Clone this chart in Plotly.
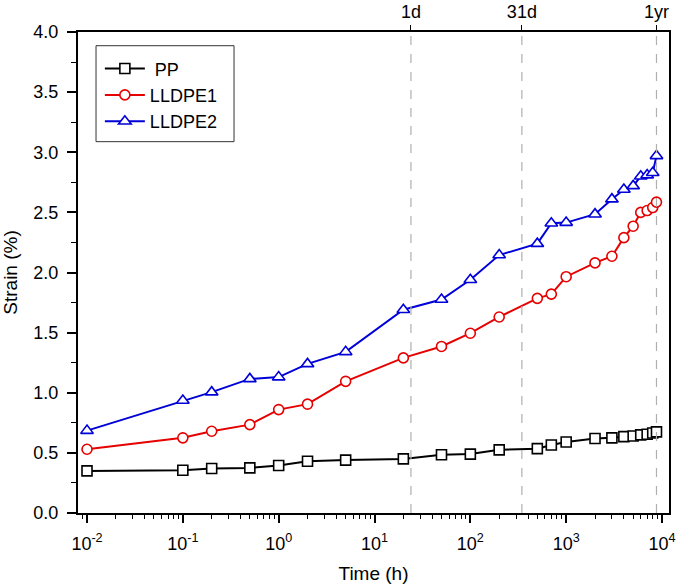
import plotly.graph_objects as go

# ---- data ----
time_h = [0.01, 0.1, 0.2, 0.5, 1, 2, 5, 20, 50, 100, 200, 500, 700, 1000,
          2000, 3000, 4000, 5000, 6000, 7000, 8000, 8760]
pp = [0.35, 0.355, 0.37, 0.375, 0.395, 0.43, 0.44, 0.45, 0.485, 0.49, 0.525,
      0.535, 0.565, 0.59, 0.62, 0.625, 0.635, 0.64, 0.65, 0.655, 0.665, 0.675]
lldpe1 = [0.53, 0.625, 0.68, 0.735, 0.86, 0.905, 1.095, 1.29, 1.385, 1.495,
          1.63, 1.785, 1.82, 1.965, 2.08, 2.135, 2.29, 2.385, 2.50, 2.515,
          2.54, 2.585]
lldpe2 = [0.685, 0.935, 1.005, 1.115, 1.13, 1.24, 1.34, 1.69, 1.775, 1.94,
          2.145, 2.24, 2.41, 2.415, 2.485, 2.61, 2.69, 2.72, 2.80, 2.81,
          2.83, 2.97]
series_names = ["PP", "LLDPE1", "LLDPE2"]

marker_times = [24, 345, 8760]
marker_labels = ["1d", "31d", "1yr"]

x_tickvals = [0.01, 0.1, 1, 10, 100, 1000, 10000]
x_ticktext = ["10<sup>-2</sup>", "10<sup>-1</sup>", "10<sup>0</sup>", "10<sup>1</sup>",
              "10<sup>2</sup>", "10<sup>3</sup>", "10<sup>4</sup>"]
x_minor = [k * v for v in [0.001, 0.01, 0.1, 1, 10, 100, 1000] for k in range(2, 10)]

FONT = "Liberation Sans, Arial, sans-serif"

fig = go.Figure()

# vertical dashed reference lines
for t in marker_times:
    fig.add_trace(go.Scatter(
        x=[t, t], y=[0, 4], mode="lines", xaxis="x2",
        line=dict(color="#b0b0b0", width=1.2, dash="dash"),
        showlegend=False, hoverinfo="skip"))

styles = [
    ("#000000", "square"),
    ("#e60000", "circle"),
    ("#0000d8", "triangle-up"),
]
for name, ys, (col, sym) in zip(series_names, [pp, lldpe1, lldpe2], styles):
    fig.add_trace(go.Scatter(
        x=time_h, y=ys, name=name if name != "PP" else " PP", mode="lines+markers",
        line=dict(color=col, width=2),
        marker=dict(symbol=sym, size=10 if sym != "triangle-up" else 11,
                    color="white", line=dict(color=col, width=1.6))))

# legend frame
fig.add_shape(type="rect", xref="paper", yref="paper",
              x0=0.0305, x1=0.264, y0=0.772, y1=0.9715,
              line=dict(color="#333333", width=1), fillcolor="white", layer="below")

fig.update_layout(
    width=685, height=585,
    margin=dict(l=78, r=16, t=32, b=72),
    plot_bgcolor="white", paper_bgcolor="white",
    font=dict(family=FONT, size=18, color="#000000"),
    showlegend=True,
    legend=dict(x=0.037, y=0.962, xanchor="left", yanchor="top",
                bgcolor="rgba(0,0,0,0)", borderwidth=0,
                font=dict(size=18), itemwidth=40, tracegroupgap=0),
    xaxis=dict(type="log", range=[-2.094, 4.073], showgrid=False, zeroline=False,
               automargin=False,
               showline=True, linecolor="black", linewidth=2, mirror=True,
               ticks="outside", ticklen=8, tickwidth=1.5, tickcolor="black",
               tickmode="array", tickvals=x_tickvals, ticktext=x_ticktext,
               ticklabelstandoff=5,
               minor=dict(tickmode="array", tickvals=x_minor, ticks="outside",
                          ticklen=4, tickwidth=1.2, tickcolor="black", showgrid=False),
               title=dict(text="Time (h)", font=dict(size=19), standoff=14)),
    xaxis2=dict(type="log", range=[-2.094, 4.073], overlaying="x", side="top",
                anchor="y", showgrid=False, zeroline=False, showline=False,
                automargin=False,
                ticks="outside", ticklen=6, tickwidth=1.2, tickcolor="black",
                ticklabelstandoff=0,
                tickmode="array", tickvals=marker_times, ticktext=marker_labels),
    yaxis=dict(range=[0, 4], showgrid=False, zeroline=False,
               automargin=False,
               showline=True, linecolor="black", linewidth=2, mirror=True,
               ticks="outside", ticklen=9, tickwidth=1.5, tickcolor="black",
               dtick=0.5, tick0=0, tickformat=".1f", ticklabelstandoff=5,
               minor=dict(dtick=0.25, ticks="outside", ticklen=5, tickwidth=1.2,
                          tickcolor="black", showgrid=False),
               title=dict(text="Strain (%)", font=dict(size=19), standoff=16)),
)

fig.write_html("out.html", config={"displayModeBar": False},
               post_script="document.body.style.margin='0';")
